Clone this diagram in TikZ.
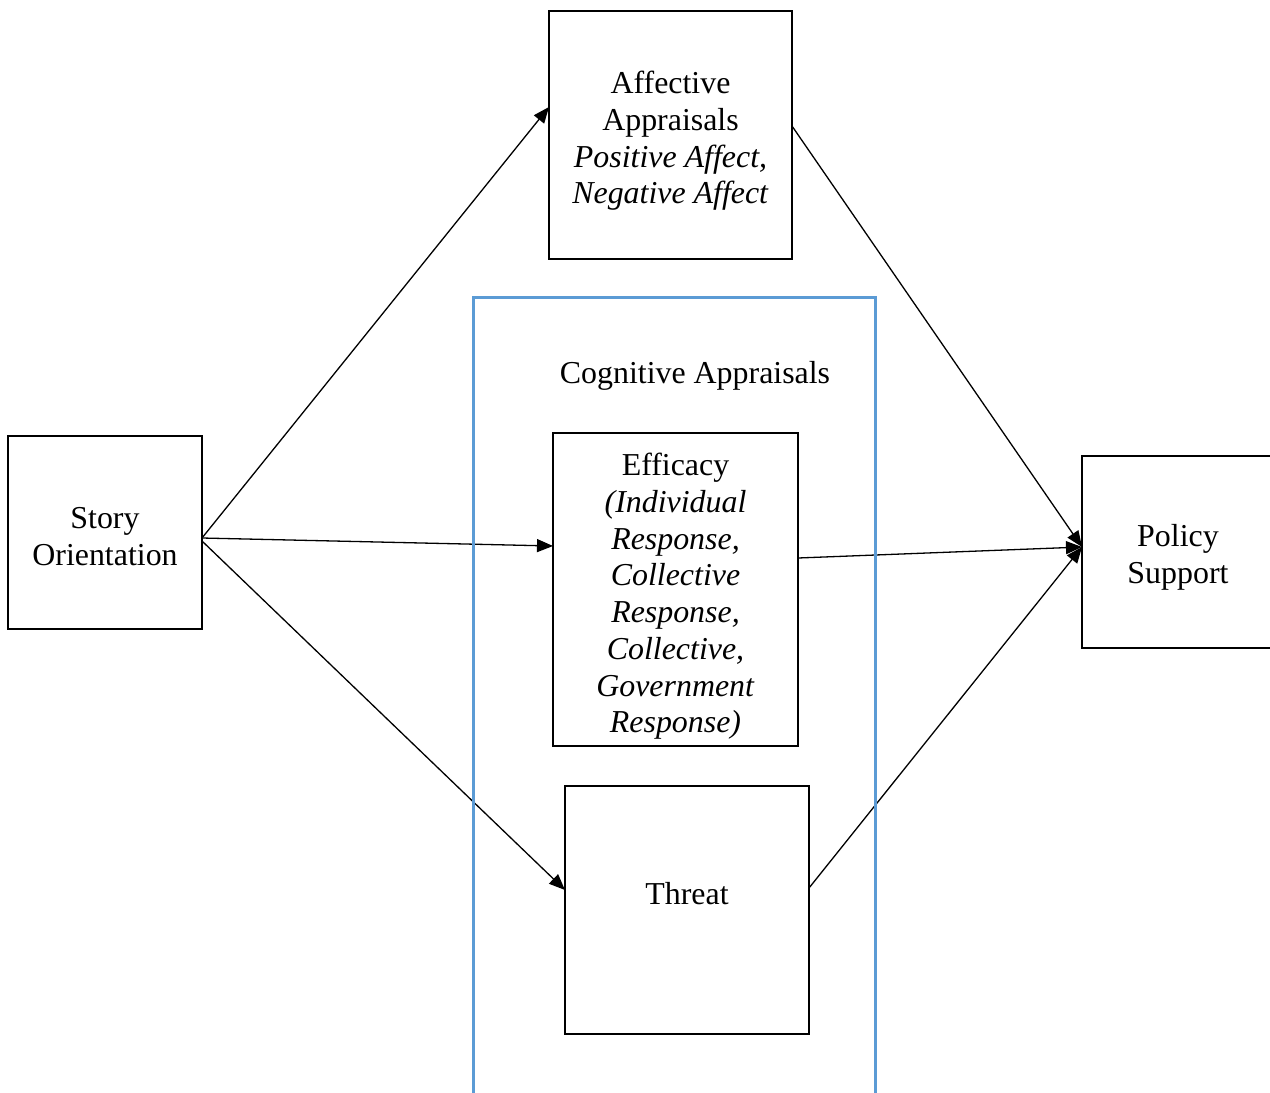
\documentclass[tikz,border=0pt]{standalone}
\usepackage{fontspec}
\setmainfont{Liberation Serif}
\usetikzlibrary{arrows.meta}
\definecolor{cogblue}{RGB}{91,155,213}
\begin{document}
\begin{tikzpicture}[x=1pt,y=-1pt,
  box/.style={draw=black,line width=2.8pt,inner sep=0pt,outer sep=0pt},
  lbl/.style={inner sep=0pt,align=center,font=\fontsize{31.9}{36.7}\selectfont},
  conn/.style={line width=1.3pt,-{Triangle[length=16pt,width=13pt]}}]
\useasboundingbox (0,0) rectangle (1270,1093);
\clip (0,0) rectangle (1270,1093);
\node[box,minimum width=194pt,minimum height=193pt] (story) at (105,532.5) {};
\node[lbl] (storylbl) at ([yshift=-4pt]story.center) {Story\\Orientation};
\node[box,minimum width=243pt,minimum height=248pt] (aff) at (670.5,135) {};
\node[lbl] (afflbl) at ([yshift=-6pt]aff.center) {Affective\\Appraisals\\\textit{Positive Affect,}\\\textit{Negative Affect}};
\node[box,minimum width=245pt,minimum height=313pt] (eff) at (675.5,589.5) {};
\node[lbl] (efflbl) at ([yshift=-7pt]eff.center) {Efficacy\\\textit{(Individual}\\\textit{Response,}\\\textit{Collective}\\\textit{Response,}\\\textit{Collective,}\\\textit{Government}\\\textit{Response)}};
\node[box,minimum width=244pt,minimum height=248pt] (threat) at (687,910) {};
\node[lbl] (threatlbl) at (687,894) {Threat};
\node[box,minimum width=192pt,minimum height=192pt] (policy) at (1178,552) {};
\node[lbl] (policylbl) at ([yshift=-5pt]policy.center) {Policy\\Support};
\node[lbl] (cog) at (695,376) {Cognitive Appraisals};
\draw[conn] ([yshift=-5.5pt]story.east) -- ([yshift=28pt]aff.west);
\draw[conn] ([yshift=-5.5pt]story.east) -- ([yshift=43.5pt]eff.west);
\draw[conn] ([yshift=-8.5pt]story.east) -- ([yshift=20pt]threat.west);
\draw[conn] ([yshift=9pt]aff.east) -- ([yshift=5pt]policy.west);
\draw[conn] ([yshift=31.5pt]eff.east) -- ([yshift=5pt]policy.west);
\draw[conn] ([yshift=22pt]threat.east) -- ([yshift=5pt]policy.west);
\draw[cogblue,line width=3pt] (473,297) rectangle (875,1094);
\end{tikzpicture}
\end{document}
